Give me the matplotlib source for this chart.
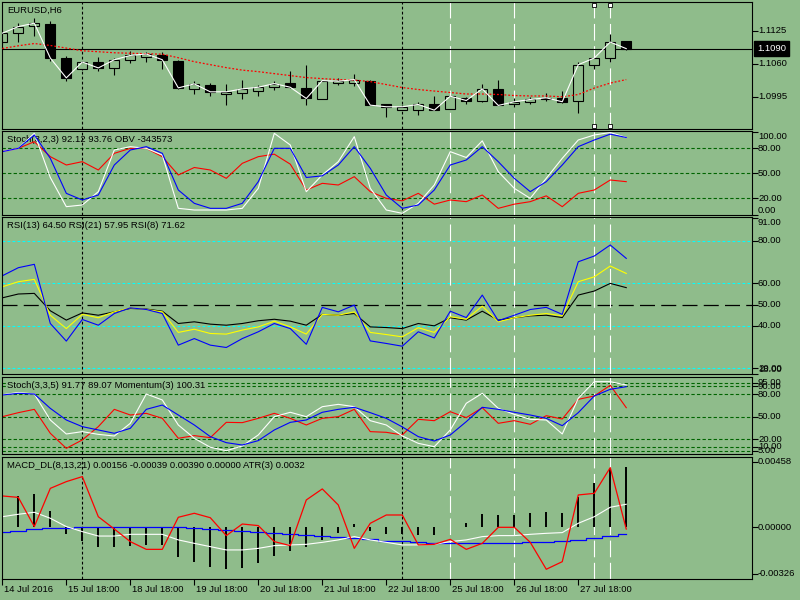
import numpy as np
import matplotlib
matplotlib.use('Agg')
import matplotlib.pyplot as plt
from matplotlib import transforms

plt.rcParams['font.family'] = ['Liberation Sans', 'DejaVu Sans']
FS = 6.8
BG = '#8FBC8B'

# ---- price data (EURUSD H6) ----
open_ = [1.11040, 1.11205, 1.11348, 1.11387, 1.10715, 1.10500, 1.10637, 1.10520, 1.10682, 1.10735,
         1.10766, 1.10663, 1.10108, 1.10193, 1.10011, 1.10030, 1.10075, 1.10148, 1.10226, 1.10128,
         1.09913, 1.10226, 1.10226, 1.10271, 1.09801, 1.09689, 1.09684, 1.09815, 1.09717, 1.09932,
         1.09866, 1.10108, 1.09815, 1.09854, 1.09899, 1.09919, 1.09879, 1.10570, 1.10715, 1.11054]
high = [1.11260, 1.11401, 1.11499, 1.11446, 1.10747, 1.10660, 1.10735, 1.10715, 1.10845, 1.10825,
        1.10825, 1.10682, 1.10257, 1.10226, 1.10212, 1.10291, 1.10193, 1.10271, 1.10467, 1.10584,
        1.10271, 1.10330, 1.10408, 1.10291, 1.09801, 1.09782, 1.09846, 1.09977, 1.09977, 1.09952,
        1.10212, 1.10291, 1.09919, 1.09944, 1.10030, 1.10075, 1.10637, 1.10715, 1.11191, 1.11054]
low = [1.10990, 1.11021, 1.11152, 1.10649, 1.10257, 1.10470, 1.10453, 1.10375, 1.10618, 1.10629,
       1.10500, 1.10108, 1.10011, 1.09964, 1.09787, 1.09899, 1.09977, 1.10095, 1.10128, 1.09782,
       1.09913, 1.10193, 1.10159, 1.09787, 1.09560, 1.09684, 1.09592, 1.09689, 1.09717, 1.09815,
       1.09854, 1.09782, 1.09756, 1.09815, 1.09879, 1.09834, 1.09639, 1.10506, 1.10637, 1.10864]
close = [1.11205, 1.11334, 1.11401, 1.10715, 1.10324, 1.10637, 1.10520, 1.10682, 1.10766, 1.10794,
         1.10682, 1.10128, 1.10206, 1.10050, 1.10050, 1.10108, 1.10140, 1.10212, 1.10140, 1.09919,
         1.10271, 1.10257, 1.10291, 1.09787, 1.09756, 1.09756, 1.09801, 1.09689, 1.09964, 1.09879,
         1.10108, 1.09782, 1.09854, 1.09899, 1.09932, 1.09854, 1.10584, 1.10715, 1.11029, 1.10900]
ma_slow = [1.10903, 1.10956, 1.11001, 1.10962, 1.10911, 1.10858, 1.10839, 1.10819, 1.10809, 1.10800,
           1.10790, 1.10721, 1.10643, 1.10584, 1.10526, 1.10477, 1.10447, 1.10408, 1.10369, 1.10330,
           1.10310, 1.10291, 1.10281, 1.10251, 1.10193, 1.10134, 1.10095, 1.10065, 1.10036, 1.10007,
           1.10007, 1.09997, 1.09977, 1.09968, 1.09968, 1.09952, 1.09997, 1.10124, 1.10222, 1.10291]
bid = 1.1090

# ---- Stoch(3,2,3) + OBV ----
st1_main = [76, 80, 98, 45, 10, 12, 28, 78, 82, 80, 72, 8, 6, 6, 6, 8, 32, 98, 84, 28,
            48, 64, 94, 32, 6, 2, 14, 36, 76, 69, 89, 52, 32, 20, 44, 68, 90, 96, 99, 93]
st1_signal = [76, 80, 96, 68, 26, 18, 24, 60, 78, 82, 74, 30, 14, 8, 8, 14, 40, 80, 80, 45,
              47, 60, 82, 56, 24, 8, 12, 30, 60, 66, 82, 64, 44, 28, 40, 60, 82, 90, 97, 93]
st1_obv = [76, 80, 88, 70, 60, 64, 54, 74, 80, 80, 70, 48, 57, 54, 44, 62, 70, 73, 61, 30,
           38, 36, 46, 28, 20, 17, 26, 13, 18, 16, 24, 8, 13, 16, 23, 10, 26, 30, 42, 40]

# ---- RSI ----
rsi8 = [63.6, 67.4, 69.0, 41.1, 32.8, 43.0, 40.3, 45.8, 48.5, 47.7, 45.8, 30.9, 34.0, 30.9, 29.8,
        34.0, 37.2, 41.1, 38.7, 31.3, 48.7, 46.6, 49.8, 32.9, 31.7, 30.4, 37.2, 34.3, 46.9, 43.9,
        54.5, 42.4, 45.0, 47.7, 48.7, 45.4, 70.2, 72.9, 78.1, 71.8]
rsi13 = [58.4, 60.8, 61.9, 45.0, 38.7, 45.4, 43.8, 46.6, 48.5, 47.7, 46.6, 36.9, 38.4, 36.4, 36.1,
         38.0, 39.5, 42.2, 39.5, 36.1, 45.4, 45.0, 46.6, 36.9, 35.9, 34.8, 39.1, 36.9, 44.3, 43.1,
         49.3, 41.9, 43.8, 45.0, 45.8, 44.7, 60.8, 63.1, 68.2, 64.7]
rsi21 = [53.2, 55.0, 55.3, 47.1, 42.7, 46.1, 45.0, 46.6, 48.2, 47.9, 46.9, 41.1, 41.9, 40.8, 40.3,
         41.1, 42.4, 43.1, 42.2, 40.3, 45.4, 45.0, 45.8, 39.5, 39.2, 38.7, 41.1, 40.0, 43.8, 42.7,
         46.9, 42.7, 43.8, 44.7, 45.0, 43.9, 54.5, 56.4, 60.0, 58.0]

# ---- Stoch(3,3,5) + Momentum ----
st2_main = [79, 82, 80, 45.6, 27.1, 30.2, 26.6, 24.4, 41.2, 80.0, 72.1, 39.0, 21.4, 9.5, 5.0,
            11.2, 25.8, 50.0, 55.8, 50.0, 63.2, 66.3, 63.2, 44.7, 39.0, 24.5, 14.7, 10.3, 32.4, 67.7,
            80.9, 61.0, 53.1, 46.5, 45.6, 27.1, 74.3, 96.3, 96.3, 91.9]
st2_signal = [78.7, 80.9, 80.0, 61.0, 45.6, 36.8, 32.4, 28.0, 34.6, 59.7, 65.4, 52.2, 39.0, 23.6, 15.6,
              12.5, 18.3, 32.4, 42.5, 45.6, 55.8, 59.7, 62.4, 55.3, 47.8, 36.5, 23.6, 17.8, 25.8, 43.4,
              62.4, 59.7, 55.8, 52.2, 47.8, 38.1, 55.3, 77.4, 86.2, 89.7]
momentum = [50.0, 55.3, 59.7, 28.0, 8.1, 19.2, 36.8, 59.7, 52.2, 54.4, 47.8, 21.4, 24.9, 22.2, 42.5,
            42.1, 47.8, 54.4, 47.8, 39.0, 47.8, 50.0, 59.7, 30.2, 29.3, 25.8, 46.5, 44.7, 56.6, 48.7,
            61.9, 41.2, 44.7, 39.9, 51.3, 46.9, 72.9, 77.4, 91.5, 61.9]

# ---- MACD_DL + ATR ----
macd_hist = [0.0, 0.00219, 0.00233, 0.00114, -0.00047, -0.00093, -0.00140, -0.00140, -0.00128, -0.00123,
             -0.00123, -0.00209, -0.00240, -0.00275, -0.00293, -0.00282, -0.00247, -0.00198, -0.00163, -0.00140,
             -0.00088, -0.00042, 0.00021, -0.00026, -0.00047, -0.00050, -0.00054, -0.00054, 0.00005, 0.00033,
             0.00093, 0.00086, 0.00086, 0.00102, 0.00109, 0.00102, 0.00209, 0.00307, 0.00412, 0.00424]
macd_red = [0.00219, 0.00209, 0.00005, 0.00272, 0.00319, 0.00354, 0.00074, -0.00012, -0.00100, -0.00154,
            -0.00154, 0.00070, 0.00098, 0.00067, -0.00058, 0.00023, 0.00012, -0.00100, -0.00128, 0.00191,
            0.00268, 0.00156, -0.00147, 0.00028, 0.00086, 0.00086, -0.00123, -0.00119, -0.00084, -0.00154,
            -0.00112, 0.00000, 0.00000, -0.00105, -0.00293, -0.00240, 0.00226, 0.00237, 0.00417, -0.00012]
macd_white = [0.00074, 0.00091, 0.00105, 0.00063, 0.00005, -0.00030, -0.00061, -0.00061, -0.00049, -0.00049,
              -0.00049, -0.00088, -0.00112, -0.00135, -0.00158, -0.00158, -0.00147, -0.00128, -0.00123, -0.00119,
              -0.00105, -0.00088, -0.00065, -0.00088, -0.00105, -0.00123, -0.00123, -0.00119, -0.00100, -0.00088,
              -0.00065, -0.00058, -0.00058, -0.00049, -0.00042, -0.00037, 0.00028, 0.00074, 0.00140, 0.00161]
macd_blue = [-0.00030, -0.00023, -0.00014, -0.00007, -0.00007, 0.00000, 0.00000, 0.00000, 0.00005, 0.00005,
             0.00005, 0.00000, -0.00007, -0.00012, -0.00019, -0.00023, -0.00030, -0.00040, -0.00047, -0.00054,
             -0.00061, -0.00065, -0.00072, -0.00081, -0.00095, -0.00095, -0.00105, -0.00107, -0.00112, -0.00112,
             -0.00112, -0.00112, -0.00112, -0.00105, -0.00105, -0.00095, -0.00088, -0.00077, -0.00061, -0.00045]

x_tick_idx = [0, 4, 8, 12, 16, 20, 24, 28, 32, 36]
x_tick_labels = ['14 Jul 2016', '15 Jul 18:00', '18 Jul 18:00', '19 Jul 18:00', '20 Jul 18:00',
                 '21 Jul 18:00', '22 Jul 18:00', '25 Jul 18:00', '26 Jul 18:00', '27 Jul 18:00']
black_marks = [5, 25]
white_marks = [28, 32, 37, 38]

x = np.arange(len(close))
W, H = 800, 600
fig = plt.figure(figsize=(8, 6), dpi=100, facecolor=BG)


def panel(top, bottom, ylim):
    ax = fig.add_axes([2 / W, 1 - bottom / H, 750 / W, (bottom - top) / H])
    ax.set_facecolor(BG)
    ax.set_xlim(-0.02, 46.86)
    ax.set_ylim(*ylim)
    for s in ax.spines.values():
        s.set_color('black')
        s.set_linewidth(0.8)
    ax.tick_params(axis='x', bottom=False, labelbottom=False)
    for i in black_marks:
        ax.axvline(i, color='black', lw=0.8, ls=(0, (2.5, 2)), zorder=1.8)
    for i in white_marks:
        ax.axvline(i, color='white', lw=0.8, ls=(0, (15, 5)), zorder=1.8)
    return ax


def title(ax, txt):
    ax.annotate(txt, xy=(0, 1), xycoords='axes fraction', xytext=(5, -4), textcoords='offset pixels',
                ha='left', va='top', fontsize=FS, zorder=1.5,
                bbox=dict(boxstyle='square,pad=0.05', fc=BG, ec='none'))


def right_labels(ax, ticks, labels, vas):
    ax.set_yticks(ticks)
    ax.tick_params(axis='y', left=False, right=True, labelleft=False, labelright=False,
                   length=4, width=0.8, direction='out', color='black')
    tr = transforms.blended_transform_factory(ax.transAxes, ax.transData)
    for t, lab, va in zip(ticks, labels, vas):
        ax.annotate(lab, xy=(1, t), xycoords=tr, xytext=(6, 0), textcoords='offset pixels',
                    ha='left', va=va, fontsize=FS, annotation_clip=False)


def hgrid(ax, levels, color, ls):
    for v in levels:
        ax.axhline(v, color=color, lw=0.8, ls=ls, zorder=1)


# ---- main price panel ----
ax0 = panel(2, 129, (1.09318, 1.11818))
o, h, l, c = map(np.array, (open_, high, low, close))
bull = c >= o
ax0.vlines(x, l, h, color='black', lw=0.8, zorder=2)
ax0.bar(x[bull], (c - o)[bull], bottom=o[bull], width=0.625, color=BG, edgecolor='black', lw=0.8, zorder=2.5)
ax0.bar(x[~bull], (c - o)[~bull], bottom=o[~bull], width=0.625, color='black', edgecolor='black', lw=0.8, zorder=2.5)
ax0.plot(x, ma_slow, color='red', lw=0.9, ls=(0, (1.5, 1.5)), zorder=3)
ax0.plot(x, close, color='white', lw=0.8, zorder=3)
ax0.axhline(bid, color='black', lw=0.8, zorder=1.9)
tr0 = transforms.blended_transform_factory(ax0.transData, ax0.transAxes)
for i in white_marks[2:]:
    ax0.plot([i, i], [0.025, 0.975], ls='none', marker='s', ms=3, mfc='white', mec='black', mew=0.6,
             transform=tr0, zorder=4, clip_on=False)
title(ax0, 'EURUSD,H6')
right_labels(ax0, [1.1125, 1.1060, 1.0995], ['1.1125', '1.1060', '1.0995'], ['center'] * 3)
ax0.annotate(f'{bid:.4f}', xy=(1, bid), xycoords=transforms.blended_transform_factory(ax0.transAxes, ax0.transData),
             xytext=(5, 0), textcoords='offset pixels', ha='left', va='center', fontsize=FS, color='white',
             bbox=dict(boxstyle='square,pad=0.3', fc='black', ec='black'), annotation_clip=False)

# ---- Stoch(3,2,3) ----
ax1 = panel(131, 215, (0, 100.8))
hgrid(ax1, [80, 50, 20], '#006400', (0, (3, 2)))
ax1.plot(x, st1_obv, color='red', lw=0.8, zorder=2)
ax1.plot(x, st1_main, color='white', lw=0.8, zorder=2)
ax1.plot(x, st1_signal, color='blue', lw=0.8, zorder=2)
title(ax1, 'Stoch(3,2,3) 92.12 93.76 OBV -343573')
right_labels(ax1, [100, 80, 50, 20, 0], ['100.00', '80.00', '50.00', '20.00', '0.00'],
             ['top', 'center', 'center', 'center', 'bottom'])

# ---- RSI ----
ax2 = panel(217, 374, (17.3, 91.3))
hgrid(ax2, [80, 60, 40, 20], '#00FFFF', (0, (2.5, 2)))
ax2.axhline(50, color='black', lw=0.9, ls=(0, (12, 5)), zorder=1)
ax2.plot(x, rsi21, color='black', lw=0.8, zorder=2)
ax2.plot(x, rsi13, color='#FFFF00', lw=0.8, zorder=2)
ax2.plot(x, rsi8, color='blue', lw=0.8, zorder=2)
title(ax2, 'RSI(13) 64.50 RSI(21) 57.95 RSI(8) 71.62')
right_labels(ax2, [91, 80, 60, 50, 40, 20, 17.3],
             ['91.00', '80.00', '60.00', '50.00', '40.00', '20.00', '18.00'],
             ['top', 'center', 'center', 'center', 'center', 'center', 'bottom'])

# ---- Stoch(3,3,5) ----
ax3 = panel(377, 454, (0.6, 102.5))
hgrid(ax3, [95, 90, 80, 50, 20, 10, 5], '#006400', (0, (3, 2)))
ax3.plot(x, momentum, color='red', lw=0.8, zorder=2)
ax3.plot(x, st2_main, color='white', lw=0.8, zorder=2)
ax3.plot(x, st2_signal, color='blue', lw=0.8, zorder=2)
title(ax3, 'Stoch(3,3,5) 91.77 89.07 Momentum(3) 100.31')
right_labels(ax3, [95, 90, 80, 50, 20, 10, 5], ['95.00', '90.00', '80.00', '50.00', '20.00', '10.00', '5.00'],
             ['center'] * 7)

# ---- MACD ----
ax4 = panel(457, 579, (-0.00361, 0.00491))
ax4.vlines(x, 0, macd_hist, color='black', lw=1.4, zorder=2)
ax4.plot(x, macd_blue, color='blue', lw=0.9, drawstyle='steps-mid', zorder=2.2)
ax4.plot(x, macd_white, color='white', lw=0.8, zorder=2.3)
ax4.plot(x, macd_red, color='red', lw=0.9, zorder=2.4)
title(ax4, 'MACD_DL(8,13,21) 0.00156 -0.00039 0.00390 0.00000 ATR(3) 0.0032')
right_labels(ax4, [0.00458, 0.0, -0.00326], ['0.00458', '0.00000', '-0.00326'], ['center'] * 3)

ax4.set_xticks(x_tick_idx)
ax4.tick_params(axis='x', bottom=True, labelbottom=False, length=4, width=0.8, direction='out')
trx = transforms.blended_transform_factory(ax4.transData, ax4.transAxes)
for t, lab in zip(x_tick_idx, x_tick_labels):
    ax4.annotate(lab, xy=(t, 0), xycoords=trx, xytext=(2, -10), textcoords='offset pixels',
                 ha='left', va='center', fontsize=FS, annotation_clip=False)

fig.savefig('out.png', dpi=100, facecolor=BG)
